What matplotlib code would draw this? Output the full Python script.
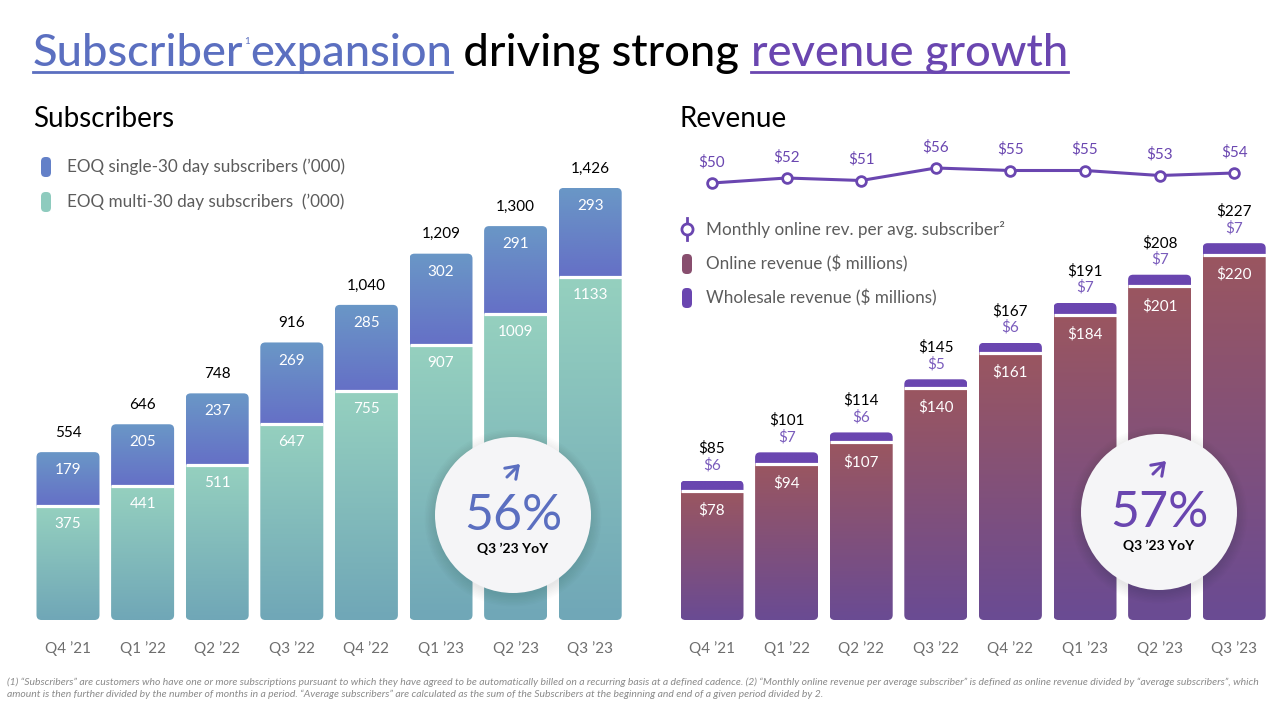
import numpy as np
import matplotlib.pyplot as plt
from matplotlib.patches import FancyBboxPatch, Circle
from matplotlib.colors import LinearSegmentedColormap

plt.rcParams['font.family'] = ['Lato', 'DejaVu Sans']

# data
quarters = ["Q4 ’21", "Q1 ’22", "Q2 ’22", "Q3 ’22", "Q4 ’22", "Q1 ’23", "Q2 ’23", "Q3 ’23"]
multi_subs = [375, 441, 511, 647, 755, 907, 1009, 1133]
single_subs = [179, 205, 237, 269, 285, 302, 291, 293]
total_subs = [554, 646, 748, 916, 1040, 1209, 1300, 1426]
online_rev = [78, 94, 107, 140, 161, 184, 201, 220]
wholesale_rev = [6, 7, 6, 5, 6, 7, 7, 7]
total_rev = [85, 101, 114, 145, 167, 191, 208, 227]
rev_per_sub = [50, 52, 51, 56, 55, 55, 53, 54]

W, H = 1280, 705
BLUE = '#5B6FC0'
PURPLE = '#6A46B0'
LPURPLE = '#7A5CBC'
GRAY = '#5C5C5C'

fig = plt.figure(figsize=(W / 100, H / 100), dpi=100)
fig.patch.set_facecolor('white')


def px_axes(x0, y0, x1, y1, **kw):
    # axes placed by pixel box (top-left origin)
    return fig.add_axes([x0 / W, (H - y1) / H, (x1 - x0) / W, (y1 - y0) / H], **kw)


def units_per_px(ax):
    bb = ax.get_position()
    xl, yl = ax.get_xlim(), ax.get_ylim()
    return (xl[1] - xl[0]) / (bb.width * W), (yl[1] - yl[0]) / (bb.height * H)


def style_axes(ax):
    for s in ax.spines.values():
        s.set_visible(False)
    ax.set_yticks([])
    ax.set_xticks(range(len(quarters)), quarters)
    ax.tick_params(axis='x', length=0, pad=15, labelsize=11, labelcolor='#6E6E6E')
    ax.patch.set_alpha(0)
    ax.set_autoscale_on(False)


def grad(ax, x, bw, y0, y1, c_bot, c_top, clip):
    cmap = LinearSegmentedColormap.from_list('g', [c_bot, c_top])
    im = ax.imshow(np.linspace(0, 1, 64).reshape(-1, 1), extent=[x - bw / 2, x + bw / 2, y0, y1],
                   origin='lower', cmap=cmap, aspect='auto', zorder=2, interpolation='bilinear')
    im.set_clip_path(clip)


def stacked_bar(ax, x, bw, low, high, low_cols, high_cols):
    ux, uy = units_per_px(ax)
    top = low + high
    clip = FancyBboxPatch((x - bw / 2, 0), bw, top, boxstyle=f"round,pad=0,rounding_size={5 * ux}",
                          mutation_aspect=uy / ux, fc='none', ec='none')
    ax.add_patch(clip)
    grad(ax, x, bw, 0, low, low_cols[0], low_cols[1], clip)
    grad(ax, x, bw, low, top, high_cols[0], high_cols[1], clip)
    ax.hlines(low, x - bw / 2, x + bw / 2, color='white', lw=2.3, zorder=3)


# ---------------- Subscribers ----------------
ax1 = px_axes(30, 100, 630, 620)
ax1.set_xlim(-38 / 74.6, 562 / 74.6)
ax1.set_ylim(0, 520 / 0.303)
style_axes(ax1)
bw = 63 / 74.6
for i in range(len(quarters)):
    stacked_bar(ax1, i, bw, multi_subs[i], single_subs[i],
                ('#70A7B7', '#95D0BF'), ('#6570C6', '#6A97C6'))
    ax1.annotate(f"{total_subs[i]:,}", (i, multi_subs[i] + single_subs[i]), xytext=(0, 14),
                 textcoords='offset points', ha='center', va='center', fontsize=11, color='black')
    ax1.annotate(str(single_subs[i]), (i, multi_subs[i] + single_subs[i]), xytext=(0, -13),
                 textcoords='offset points', ha='center', va='center', fontsize=11, color='white', zorder=4)
    ax1.annotate(str(multi_subs[i]), (i, multi_subs[i]), xytext=(0, -13),
                 textcoords='offset points', ha='center', va='center', fontsize=11, color='white', zorder=4)

# ---------------- Revenue ----------------
ax2 = px_axes(675, 100, 1270, 620)
ax2.set_xlim(-37 / 74.6, 558 / 74.6)
ax2.set_ylim(0, 520 / 1.66)
style_axes(ax2)
for i in range(len(quarters)):
    stacked_bar(ax2, i, bw, online_rev[i], wholesale_rev[i],
                ('#6A4B93', '#9A5660'), (PURPLE, PURPLE))
    top = online_rev[i] + wholesale_rev[i]
    ax2.annotate(f"${total_rev[i]}", (i, top), xytext=(0, 23),
                 textcoords='offset points', ha='center', va='center', fontsize=11, color='black')
    ax2.annotate(f"${wholesale_rev[i]}", (i, top), xytext=(0, 11),
                 textcoords='offset points', ha='center', va='center', fontsize=11, color=LPURPLE)
    ax2.annotate(f"${online_rev[i]}", (i, online_rev[i]), xytext=(0, -14),
                 textcoords='offset points', ha='center', va='center', fontsize=11, color='white', zorder=4)

# monthly revenue per subscriber line
ax3 = px_axes(675, 140, 1270, 200)
ax3.set_xlim(ax2.get_xlim())
ax3.set_ylim(43.2, 67.2)
ax3.axis('off')
ax3.plot(range(len(quarters)), rev_per_sub, color=PURPLE, lw=2.2, marker='o', ms=7,
         mfc='white', mec=PURPLE, mew=2, zorder=3)
for i, v in enumerate(rev_per_sub):
    ax3.annotate(f"${v}", (i, v), xytext=(0, 15), textcoords='offset points',
                 ha='center', va='center', fontsize=11, color=PURPLE)

# ---------------- overlay: titles, legends, circles ----------------
ov = fig.add_axes([0, 0, 1, 1], zorder=5)
ov.set_xlim(0, W)
ov.set_ylim(H, 0)
ov.axis('off')

TS = 32.6
t1 = ov.text(33, 66, "Subscriber", fontsize=TS, color=BLUE, va='baseline', fontweight='medium')
t2 = ov.annotate("1", xy=(1, 1), xycoords=t1, xytext=(0.5, -3), textcoords='offset points',
                 fontsize=7, color=BLUE, va='top')
t3 = ov.annotate("expansion", xy=(1, 0), xycoords=t1, xytext=(5, 0), textcoords='offset points',
                 fontsize=TS, color=BLUE, va='bottom', fontweight='medium')
t4 = ov.annotate(" driving strong ", xy=(1, 0), xycoords=t3, fontsize=TS, color='black',
                 va='bottom', fontweight='medium')
t5 = ov.annotate("revenue growth", xy=(1, 0), xycoords=t4, fontsize=TS, color=PURPLE,
                 va='bottom', fontweight='medium')

fig.canvas.draw()
r = fig.canvas.get_renderer()
inv = ov.transData.inverted()
a = inv.transform(t1.get_window_extent(r))
b = inv.transform(t3.get_window_extent(r))
c = inv.transform(t5.get_window_extent(r))
ov.plot([a[0][0], b[1][0]], [72, 72], color=BLUE, lw=2)
ov.plot([c[0][0], c[1][0]], [72, 72], color=PURPLE, lw=2)

ov.text(33, 119, "Subscribers", fontsize=20, color='black', va='center')
ov.text(680, 119, "Revenue", fontsize=20, color='black', va='center')

# legend, subscribers
for y, col, lab in [(167, '#6380C8', "EOQ single-30 day subscribers (’000)"),
                    (202, '#8ECBBE', "EOQ multi-30 day subscribers  (’000)")]:
    ov.add_patch(FancyBboxPatch((41, y - 10), 10, 20, boxstyle='round,pad=0,rounding_size=4.5',
                                fc=col, ec='none'))
    ov.text(67, y, lab, fontsize=12.3, color=GRAY, va='center')

# legend, revenue
ov.plot([687, 687], [218, 240], color=PURPLE, lw=2)
ov.plot([687], [229], marker='o', ms=8, mfc='white', mec=PURPLE, mew=2)
ov.text(706, 229, "Monthly online rev. per avg. subscriber²", fontsize=12.3, color=GRAY, va='center')
for y, col, lab in [(264, '#884E6E', "Online revenue ($ millions)"),
                    (298, PURPLE, "Wholesale revenue ($ millions)")]:
    ov.add_patch(FancyBboxPatch((682, y - 10), 10, 20, boxstyle='round,pad=0,rounding_size=4.5',
                                fc=col, ec='none'))
    ov.text(706, y, lab, fontsize=12.3, color=GRAY, va='center')

# growth badges
for cx, cy, pct, col in [(513, 515, "56%", BLUE), (1159, 512, "57%", PURPLE)]:
    for k in range(8):
        ov.add_patch(Circle((cx, cy + 3), 78 + k * 1.5, fc='black', ec='none', alpha=0.012))
    ov.add_patch(Circle((cx, cy), 78, fc='#F5F5F7', ec='none'))
    ov.annotate("", xy=(cx + 9, cy - 53), xytext=(cx - 8, cy - 36),
                arrowprops=dict(arrowstyle='->,head_length=0.5,head_width=0.35', color=col,
                                lw=2.2, mutation_scale=16))
    ov.text(cx, cy + 1, pct, fontsize=36, color=col, ha='center', va='center')
    ov.text(cx, cy + 34, "Q3 ’23 YoY", fontsize=10, color='black', ha='center', va='center',
            fontweight='bold')

note1 = ("(1) “Subscribers” are customers who have one or more subscriptions pursuant to which they have agreed to be "
         "automatically billed on a recurring basis at a defined cadence. (2) “Monthly online revenue per average subscriber” "
         "is defined as online revenue divided by “average subscribers”, which")
note2 = ("amount is then further divided by the number of months in a period. “Average subscribers” are calculated as the "
         "sum of the Subscribers at the beginning and end of a given period divided by 2.")
ov.text(7, 682, note1, fontsize=7.5, color='#8A8A8A', style='italic', va='center')
ov.text(7, 694, note2, fontsize=7.5, color='#8A8A8A', style='italic', va='center')

fig.savefig('out.png', dpi=100)
